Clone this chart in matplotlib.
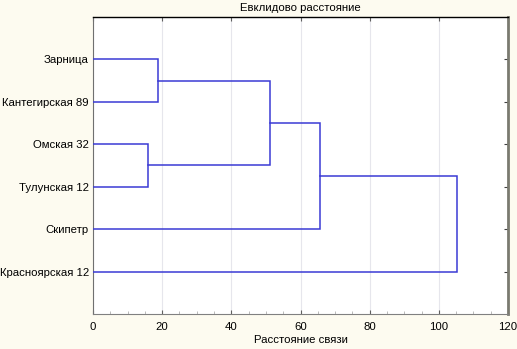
import matplotlib.pyplot as plt
import numpy as np

plt.rcParams['font.family'] = ['Liberation Sans', 'DejaVu Sans']

# leaves, top to bottom
labels = ["Зарница", "Кантегирская 89", "Омская 32", "Тулунская 12",
          "Скипетр", "Красноярская 12"]
# merges: (left node, right node, linkage distance); new nodes numbered from 6
merges = [(2, 3, 15.9),
          (0, 1, 18.8),
          (7, 6, 51.2),
          (8, 4, 65.6),
          (9, 5, 105.3)]

title = "Евклидово расстояние"
xlabel = "Расстояние связи"
xticks = [0, 20, 40, 60, 80, 100, 120]

fig = plt.figure(figsize=(5.17, 3.49), dpi=100)
fig.patch.set_facecolor("#fdfbf0")
ax = fig.add_axes([0.1799, 0.1003, 0.8027, 0.851])
ax.set_facecolor("white")

lc = "#3a3ad4"
pos = {i: (0.0, i + 1) for i in range(len(labels))}
for k, (a, b, d) in enumerate(merges):
    xa, ya = pos[a]
    xb, yb = pos[b]
    ax.plot([xa, d, d, xb], [ya, ya, yb, yb], color=lc, lw=1.1,
            solid_joinstyle="miter", zorder=3)
    pos[len(labels) + k] = (d, (ya + yb) / 2)

ax.set_xlim(0, 120)
ax.set_ylim(len(labels) + 1, 0)
ax.set_xticks(xticks)
ax.set_xticklabels([str(t) for t in xticks], fontsize=8.2)
ax.set_xticks(np.arange(0, 121, 5), minor=True)
ax.set_yticks(np.arange(1, len(labels) + 1))
ax.set_yticklabels(labels, fontsize=8.2)
ax.tick_params(axis="y", length=3, direction="in", left=False, right=True,
               color="#404040", pad=3)
ax.tick_params(axis="y", labelleft=True, labelright=False)
ax.tick_params(axis="x", which="major", direction="in", length=3, color="#606060",
               pad=6, top=True)
ax.tick_params(axis="x", which="minor", direction="in", length=2, color="#b0b0b0")
ax.grid(axis="x", color="#e6e6ec", lw=0.8, zorder=0)

ax.spines["top"].set_color("black")
ax.spines["top"].set_linewidth(1.0)
ax.spines["left"].set_color("#707070")
ax.spines["left"].set_linewidth(0.8)
ax.spines["bottom"].set_color("#808080")
ax.spines["bottom"].set_linewidth(0.8)
ax.spines["right"].set_color("#7a7a70")
ax.spines["right"].set_linewidth(2.0)

ax.set_title(title, fontsize=8.2, pad=4)
ax.set_xlabel(xlabel, fontsize=8.2, labelpad=2)

fig.savefig("out.png", dpi=100, facecolor=fig.get_facecolor())
